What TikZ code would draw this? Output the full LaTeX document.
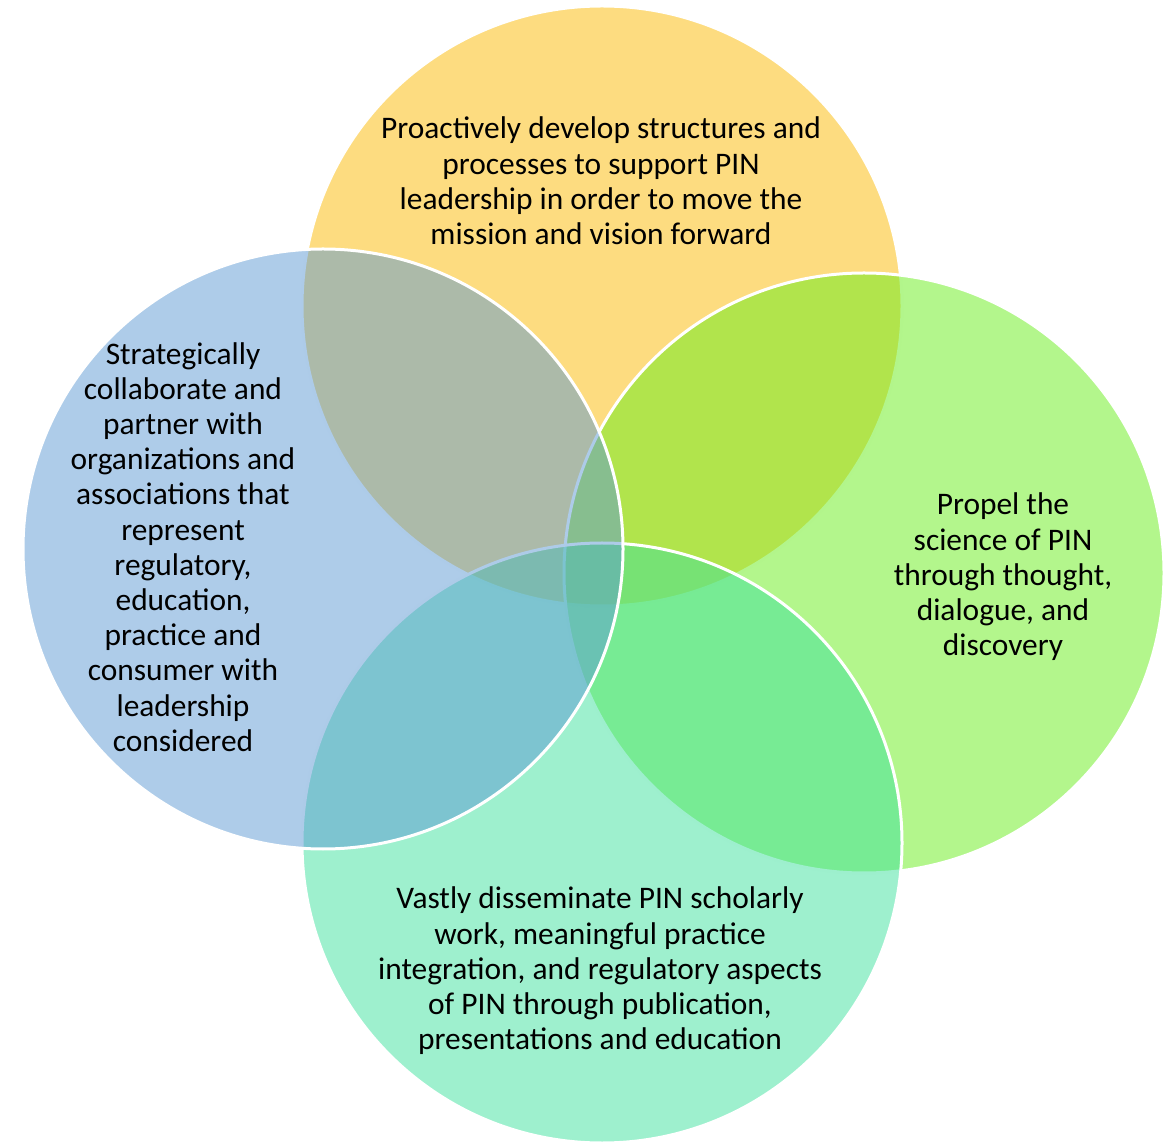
\documentclass[tikz,border=0pt]{standalone}
\usepackage{fontspec}
\setmainfont{Carlito}
\definecolor{cyellow}{HTML}{FBB901}
\definecolor{cblue}{HTML}{5D99D3}
\definecolor{cgreen}{HTML}{67ED19}
\definecolor{cteal}{HTML}{3DE19D}
\begin{document}
\begin{tikzpicture}[x=0.5pt,y=-0.5pt,
  venn/.style={circle,minimum size=300pt,inner sep=0pt,draw=white,line width=1.5pt,fill opacity=0.5,draw opacity=1},
  lbl/.style={align=center,font=\fontsize{15.7pt}{17.6pt}\selectfont,text=black,inner sep=0pt}]
\useasboundingbox (0,0) rectangle (1167,1143);
\node[venn,fill=cyellow] (top) at (602,306) {};
\node[venn,fill=cgreen] (right) at (864,573) {};
\node[venn,fill=cteal] (bottom) at (602,843) {};
\node[venn,fill=cblue] (left) at (323,549) {};
\node[lbl] (ttop) at (601,181) {Proactively develop structures and\\processes to support PIN\\leadership in order to move the\\mission and vision forward};
\node[lbl] (tleft) at (183,547) {Strategically\\collaborate and\\partner with\\organizations and\\associations that\\represent\\regulatory,\\education,\\practice and\\consumer with\\leadership\\considered};
\node[lbl] (tright) at (1003,577) {Propel the\\science of PIN\\through thought,\\dialogue, and\\discovery};
\node[lbl] (tbottom) at (600,971) {Vastly disseminate PIN scholarly\\work, meaningful practice\\integration, and regulatory aspects\\of PIN through publication,\\presentations and education};
\end{tikzpicture}
\end{document}
